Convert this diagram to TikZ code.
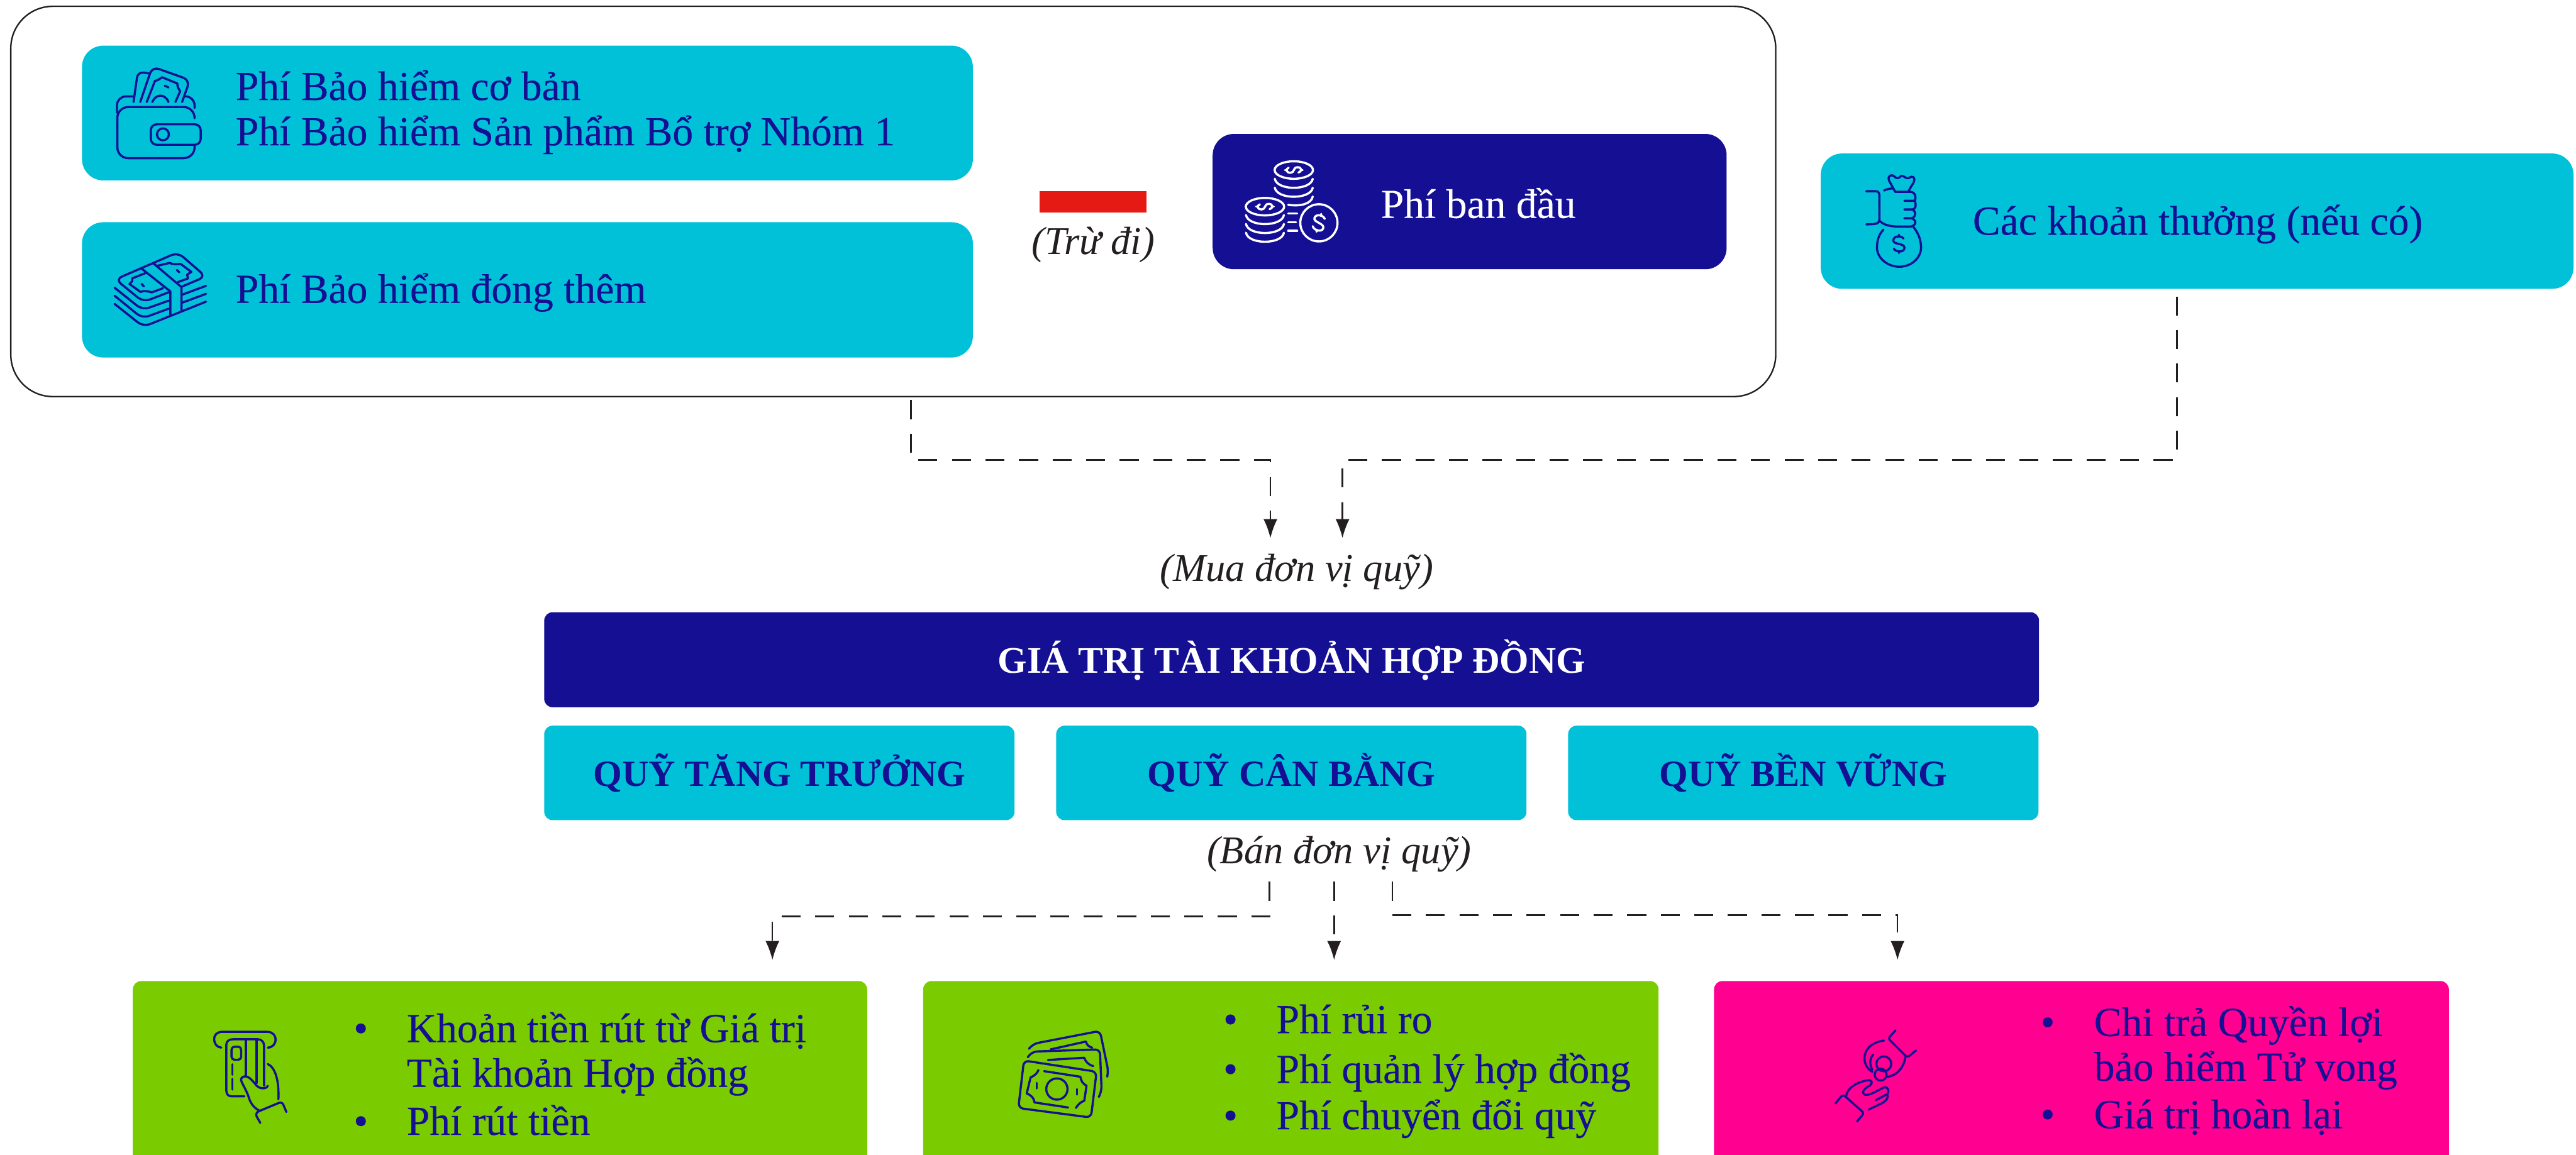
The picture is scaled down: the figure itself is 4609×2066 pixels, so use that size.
\documentclass[tikz,border=0pt]{standalone}
\usepackage{fontspec}
\usepackage{tikz}
\usetikzlibrary{arrows,arrows.meta}
\setmainfont{Liberation Serif}
\newfontfamily\bodyface[FakeBold=0.25]{Liberation Serif}
\definecolor{navy}{HTML}{140F93}
\definecolor{cyanbox}{HTML}{00C1D8}
\definecolor{greenbox}{HTML}{7ACC00}
\definecolor{pinkbox}{HTML}{FF0090}
\definecolor{redbar}{HTML}{E61A14}
\definecolor{inkline}{HTML}{231F20}
\tikzset{
  dollar/.pic={
    \draw (19,-22) .. controls (10,-36) and (-23,-34) .. (-23,-14) .. controls (-23,4) and (23,-4) .. (23,16) .. controls (23,36) and (-12,36) .. (-21,20);
    \draw (0,-38) -- (0,-30);
    \draw (0,30) -- (0,38);
  }
}

\begin{document}
\begin{tikzpicture}[
  x=0.01cm,y=-0.01cm,
  outerbox/.style={draw=inkline,line width=0.75pt,rounded corners=0.75cm,anchor=north west,inner sep=0pt},
  softbox/.style={fill=cyanbox,rounded corners=0.38cm,anchor=north west,inner sep=0pt},
  flatbox/.style={rounded corners=0.15cm,anchor=north west,inner sep=0pt},
  bodytxt/.style={anchor=base west,inner sep=0pt,text=navy,font=\bodyface\fontsize{21}{24}\selectfont},
  headtxt/.style={text=navy,font=\bfseries\fontsize{18.8}{24}\selectfont},
  notetxt/.style={anchor=base,inner sep=0pt,text=inkline,font=\itshape\fontsize{20}{24}\selectfont},
  flow/.style={draw=inkline,line width=0.8pt,dash pattern=on 0.34cm off 0.26cm},
  icon/.style={line width=1.1pt,line cap=round,line join=round,x=0.00333cm,y=-0.00333cm}
]
  \useasboundingbox (0,0) rectangle (4609,2066);
  \clip (0,0) rectangle (4609,2066);

  % premium group
  \node[outerbox,minimum width=31.56cm,minimum height=6.98cm] (outer) at (18,10) {};
  \node[softbox,minimum width=15.93cm,minimum height=2.41cm] (basic) at (146,81) {};
  \node[softbox,minimum width=15.93cm,minimum height=2.42cm] (extra) at (146,397) {};
  \node[softbox,fill=navy,minimum width=9.19cm,minimum height=2.42cm] (initial) at (2169,239) {};
  \node[softbox,minimum width=13.46cm,minimum height=2.42cm] (bonus) at (3257,274) {};
  \node[fill=redbar,inner sep=0pt,anchor=north west,minimum width=1.92cm,minimum height=0.39cm] (minus) at (1859,341) {};

  \node[bodytxt] (basic1) at (421,179) {Phí Bảo hiểm cơ bản};
  \node[bodytxt] (basic2) at (421,260) {Phí Bảo hiểm Sản phẩm Bổ trợ Nhóm 1};
  \node[bodytxt] (extra1) at (421,542) {Phí Bảo hiểm đóng thêm};
  \node[bodytxt,text=white] (initial1) at (2470,390) {Phí ban đầu};
  \node[bodytxt] (bonus1) at (3529,420) {Các khoản thưởng (nếu có)};
  \node[notetxt] (minus1) at (1956,455) {(Trừ đi)};

  % account and funds
  \node[notetxt] (buy) at (2320,1040) {(Mua đơn vị quỹ)};
  \node[flatbox,fill=navy,text=white,font=\bfseries\fontsize{19.1}{24}\selectfont,minimum width=26.73cm,minimum height=1.7cm] (account) at (973,1095) {GIÁ TRỊ TÀI KHOẢN HỢP ĐỒNG};
  \node[flatbox,fill=cyanbox,headtxt,minimum width=8.41cm,minimum height=1.69cm] (fund1) at (973,1298) {QUỸ TĂNG TRƯỞNG};
  \node[flatbox,fill=cyanbox,headtxt,minimum width=8.41cm,minimum height=1.69cm] (fund2) at (1889,1298) {QUỸ CÂN BẰNG};
  \node[flatbox,fill=cyanbox,headtxt,minimum width=8.41cm,minimum height=1.69cm] (fund3) at (2805,1298) {QUỸ BỀN VỮNG};
  \node[notetxt] (sell) at (2396,1545) {(Bán đơn vị quỹ)};

  % deductions
  \node[flatbox,fill=greenbox,minimum width=13.13cm,minimum height=3.6cm] (cash) at (237,1755) {};
  \node[flatbox,fill=greenbox,minimum width=13.15cm,minimum height=3.6cm] (fees) at (1651,1755) {};
  \node[flatbox,fill=pinkbox,minimum width=13.14cm,minimum height=3.6cm] (claim) at (3066,1755) {};

  \node[bodytxt] (cashb1) at (632,1865) {•};
  \node[bodytxt] (cash1) at (727,1865) {Khoản tiền rút từ Giá trị};
  \node[bodytxt] (cash2) at (727,1945) {Tài khoản Hợp đồng};
  \node[bodytxt] (cashb2) at (632,2031) {•};
  \node[bodytxt] (cash3) at (727,2031) {Phí rút tiền};

  \node[bodytxt] (feesb1) at (2188,1849) {•};
  \node[bodytxt] (fees1) at (2283,1849) {Phí rủi ro};
  \node[bodytxt] (feesb2) at (2188,1938) {•};
  \node[bodytxt] (fees2) at (2283,1938) {Phí quản lý hợp đồng};
  \node[bodytxt] (feesb3) at (2188,2021) {•};
  \node[bodytxt] (fees3) at (2283,2021) {Phí chuyển đổi quỹ};

  \node[bodytxt] (claimb1) at (3650,1854) {•};
  \node[bodytxt] (claim1) at (3746,1854) {Chi trả Quyền lợi};
  \node[bodytxt] (claim2) at (3746,1934) {bảo hiểm Tử vong};
  \node[bodytxt] (claimb2) at (3650,2019) {•};
  \node[bodytxt] (claim3) at (3746,2019) {Giá trị hoàn lại};

  % connector ends
  \coordinate (drop1) at (outer.south -| 1630,0);
  \coordinate (drop2) at (bonus.south -| 3895,0);
  \coordinate (buy1) at (2273,963);
  \coordinate (buy2) at (2402,963);
  \coordinate (sell1) at (2271,1578);
  \coordinate (sell2) at (2387,1578);
  \coordinate (sell3) at (2491,1578);
  \coordinate (out1) at (1382,1718);
  \coordinate (out2) at (2387,1718);
  \coordinate (out3) at (3395,1718);

  % dashed edges
  \draw[flow,-{Latex[length=3.4mm,width=2.5mm]},shorten <=0.05cm] (drop1) -- (1630,823) -| (buy1);
  \draw[flow,-{Latex[length=3.4mm,width=2.5mm]},shorten <=0.13cm] (drop2) -- (3895,823) -| (buy2);
  \draw[flow,-{Latex[length=3.4mm,width=2.5mm]}] (sell1) -- (2271,1640) -| (out1);
  \draw[flow,-{Latex[length=3.4mm,width=2.5mm]}] (sell2) -- (out2);
  \draw[flow,-{Latex[length=3.4mm,width=2.5mm]}] (sell3) -- (2491,1638) -| (out3);

  % wallet
  \begin{scope}[shift={(190,110)},icon,color=navy]
    \draw[rounded corners=5.5pt] (475,305) |- (60,245) |- (475,520) -- (475,450);
    \draw[rounded corners=4.5pt] (58,275) |- (143,188);
    \draw[rounded corners=4.5pt] (475,250) |- (425,188);
    \draw[rounded corners=3pt] (240,338) rectangle (508,448);
    \draw (305,392) circle[radius=32];
    \draw[rounded corners=3pt] (147,218) -- (170,55) -- (235,65);
    \draw[rounded corners=3.5pt] (183,218) -- (248,28) -- (450,100) -- (408,218);
    \draw (218,218) -- (262,105) .. controls (285,100) and (290,90) .. (300,85) -- (382,118) .. controls (382,135) and (390,150) .. (398,160) -- (372,218);
    \draw (248,218) .. controls (265,175) and (315,170) .. (335,218);
    \draw (315,130) -- (335,140);
  \end{scope}

  % bundle of notes
  \begin{scope}[shift={(190,440)},icon,color=navy]
    \draw[rounded corners=3.5pt] (335,250) -- (200,302) -- (50,180) -- (385,35) -- (535,165) -- (410,218);
    \draw (190,122) -- (345,245) -- (345,370);
    \draw (255,95) -- (405,222) -- (405,350);
    \draw[rounded corners=3.5pt] (45,225) -- (195,345) -- (335,295);
    \draw (410,262) -- (537,215);
    \draw[rounded corners=3.5pt] (45,268) -- (195,390) -- (335,338);
    \draw (410,305) -- (537,258);
    \draw[rounded corners=3.5pt] (45,312) -- (200,435) -- (537,300);
    \draw (215,145) -- (140,175) -- (140,190) -- (125,205) -- (185,248) .. controls (205,238) and (225,245) .. (245,250) -- (305,228);
    \draw (272,108) -- (340,92) .. controls (360,100) and (380,100) .. (400,97) -- (458,140) -- (435,155) -- (440,175) -- (385,195);
    \draw (190,205) -- (203,218);
    \draw (380,130) -- (393,142);
  \end{scope}

  % coins
  \begin{scope}[shift={(2210,275)},icon,color=white]
    \draw (315,88) ellipse[x radius=103,y radius=47];
    \pic[xscale=1.25,yscale=0.65,rotate=90] at (315,88) {dollar};
    \draw (213,135) .. controls (225,200) and (405,200) .. (417,135);
    \draw (213,183) .. controls (225,248) and (405,248) .. (417,183);
    \draw (285,275) .. controls (350,285) and (410,270) .. (417,230);
    \draw (160,285) ellipse[x radius=103,y radius=47];
    \pic[xscale=1.25,yscale=0.65,rotate=90] at (160,285) {dollar};
    \draw (58,330) .. controls (70,395) and (250,395) .. (262,330);
    \draw (58,378) .. controls (70,443) and (250,443) .. (262,378);
    \draw (58,425) .. controls (70,490) and (250,490) .. (262,425);
    \draw (285,322) -- (333,322);
    \draw (285,368) -- (327,368);
    \draw (285,415) -- (333,415);
    \draw (450,372) circle[radius=100];
    \pic[scale=1.3,rotate=-15] at (450,372) {dollar};
  \end{scope}

  % money bag
  \begin{scope}[shift={(3300,305)},icon,color=navy]
    \draw (272,113) -- (240,55) .. controls (230,25) and (255,20) .. (268,32) .. controls (280,45) and (290,45) .. (305,30) .. controls (320,25) and (325,45) .. (345,42) .. controls (365,25) and (385,35) .. (372,65) -- (345,110);
    \draw (213,108) .. controls (230,100) and (245,97) .. (262,97);
    \draw (272,115) -- (355,115) .. controls (380,118) and (385,135) .. (380,160) .. controls (378,165) and (360,163) .. (322,163);
    \draw (118,112) -- (170,112) .. controls (183,112) and (188,122) .. (188,135) -- (188,265) .. controls (188,285) and (175,290) .. (118,290);
    \draw (378,163) .. controls (388,185) and (385,210) .. (362,210) -- (322,210);
    \draw (362,210) .. controls (388,215) and (385,255) .. (360,257) -- (322,257);
    \draw (360,257) .. controls (385,265) and (388,285) .. (372,295);
    \draw (190,272) .. controls (225,305) and (270,302) .. (350,302) .. controls (365,302) and (372,298) .. (378,290);
    \draw (210,318) .. controls (180,350) and (175,385) .. (175,420) .. controls (180,480) and (240,518) .. (295,518) .. controls (360,518) and (412,470) .. (412,415) .. controls (412,370) and (395,335) .. (372,305);
    \pic[scale=1.3] at (293,395) {dollar};
  \end{scope}

  % card and hand
  \begin{scope}[shift={(360,1835)},icon,color=navy]
    \draw (108,120) .. controls (85,118) and (70,100) .. (70,75) .. controls (70,50) and (85,35) .. (115,35) -- (355,35) .. controls (385,35) and (400,55) .. (400,75) .. controls (400,100) and (385,118) .. (358,120);
    \draw (232,382) -- (165,382) .. controls (145,382) and (135,370) .. (135,350) -- (135,105) .. controls (135,85) and (150,75) .. (170,75) -- (305,75) .. controls (325,75) and (338,90) .. (338,110) -- (338,325);
    \draw (240,75) -- (240,268);
    \draw (298,75) -- (298,310);
    \draw[rounded corners=1.5pt] (163,115) rectangle (215,185);
    \draw (168,210) -- (168,265);
    \draw (168,288) -- (168,345);
    \draw (358,325) .. controls (350,345) and (310,345) .. (290,315) .. controls (270,290) and (250,270) .. (230,275) .. controls (215,280) and (210,290) .. (218,305) .. controls (235,340) and (250,365) .. (258,395) .. controls (270,425) and (285,445) .. (315,460);
    \draw (358,208) .. controls (395,225) and (420,290) .. (415,398);
    \draw (318,525) -- (298,490) .. controls (292,475) and (300,465) .. (315,460) -- (415,418) .. controls (430,412) and (438,418) .. (442,428) -- (458,466);
  \end{scope}

  % stack of notes
  \begin{scope}[icon,color=navy,x=0.01cm,y=-0.01cm]
    \draw[rounded corners=2.5pt] (1832,1898) -- (1962,1918) -- (1952,2000) -- (1822,1983) -- cycle;
    \draw (1868,1917) -- (1933,1927) .. controls (1934,1935) and (1938,1940) .. (1944,1943) -- (1940,1970) .. controls (1933,1972) and (1928,1978) .. (1925,1983);
    \draw (1911,1982) -- (1851,1973) .. controls (1850,1965) and (1845,1960) .. (1837,1957) -- (1844,1928) .. controls (1852,1925) and (1856,1920) .. (1858,1915);
    \draw (1891,1949) circle[radius=19];
    \draw (1855,1938) -- (1855,1948);
    \draw (1927,1949) -- (1927,1959);
    \draw[rounded corners=2.5pt] (1839,1892) -- (1847,1882) -- (1968,1878) -- (1971,1953) -- (1966,1963);
    \draw (1875,1897) -- (1940,1893) .. controls (1942,1900) and (1948,1906) .. (1956,1908);
    \draw[rounded corners=2.5pt] (1841,1877) -- (1849,1868) -- (1968,1845) -- (1983,1917) -- (1981,1927);
    \draw (1880,1878) -- (1943,1864) .. controls (1944,1870) and (1948,1873) .. (1954,1875);
  \end{scope}

  % hands and coin
  \begin{scope}[shift={(3260,1830)},icon,color=navy]
    \draw (395,42) -- (365,75) .. controls (358,85) and (360,90) .. (368,98) -- (445,175) .. controls (452,185) and (460,185) .. (468,180) -- (505,150);
    \draw (333,97) .. controls (270,105) and (230,140) .. (228,190) .. controls (228,225) and (245,250) .. (270,265);
    \draw (275,172) .. controls (255,195) and (255,225) .. (270,255);
    \draw (332,222) circle[radius=40];
    \draw (315,280) circle[radius=32];
    \draw (448,185) .. controls (440,240) and (405,285) .. (350,292);
    \draw (72,435) -- (105,395) .. controls (112,390) and (120,392) .. (128,400) -- (218,480) .. controls (222,490) and (220,495) .. (215,500) -- (188,532);
    \draw (130,393) .. controls (135,360) and (170,325) .. (245,310) .. controls (270,308) and (275,325) .. (255,340) .. controls (235,350) and (205,375) .. (230,388) .. controls (250,395) and (290,370) .. (330,350) .. controls (355,340) and (365,370) .. (350,385) -- (288,418);
    \draw (350,385) .. controls (360,405) and (345,420) .. (320,435) -- (250,468);
  \end{scope}
\end{tikzpicture}
\end{document}
